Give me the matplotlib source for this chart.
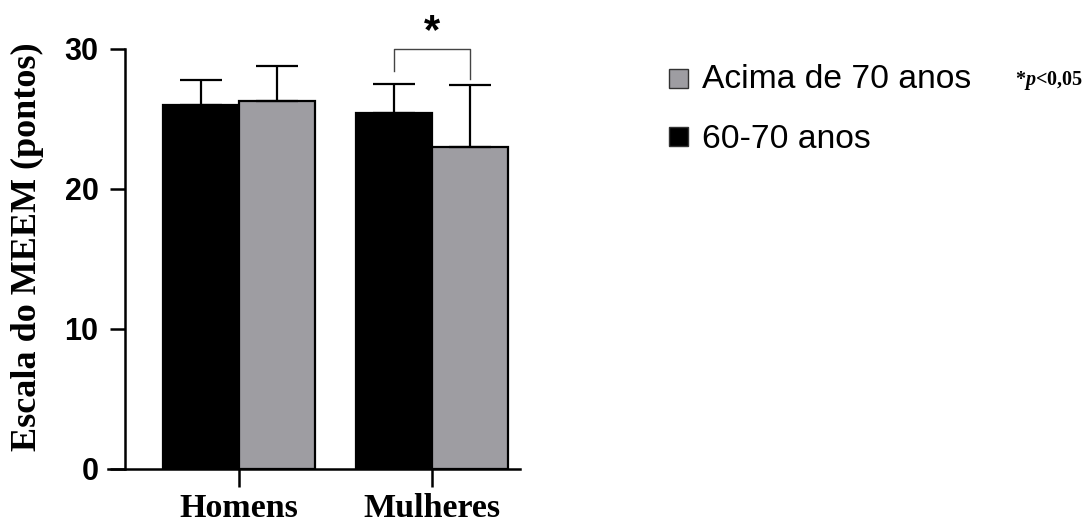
import numpy as np
import matplotlib
matplotlib.use('Agg')
import matplotlib.pyplot as plt
from matplotlib.patches import Rectangle

plt.rcParams['mathtext.fontset'] = 'custom'
plt.rcParams['mathtext.bfit'] = 'Liberation Serif:italic:bold'

# group labels, means and upper SD for the two age ranges
groups = ['Homens', 'Mulheres']
series_names = ['60-70 anos', 'Acima de 70 anos']
mean_60_70 = [26.0, 25.4]
sd_60_70 = [1.8, 2.1]
mean_70_plus = [26.3, 23.0]
sd_70_plus = [2.5, 4.4]
y_ticks = [0, 10, 20, 30]

black = '#000000'
grey = '#9e9da2'

W, H = 1087, 524
fig = plt.figure(figsize=(W / 100, H / 100), dpi=100)
fig.set_facecolor('white')

# axes box in pixel terms (left, bottom, right, top)
L, B, R, T = 108, 469, 520, 49
ax = fig.add_axes([L / W, 1 - B / H, (R - L) / W, (B - T) / H])

x = np.arange(len(groups))
width = 0.394
err_kw = dict(ecolor='black', elinewidth=1.6, capsize=15, capthick=1.6)

ax.bar(x - width / 2, mean_60_70, width, color=black, edgecolor='black', linewidth=1.6,
       yerr=[np.zeros(len(groups)), sd_60_70], error_kw=err_kw, zorder=3)
ax.bar(x + width / 2, mean_70_plus, width, color=grey, edgecolor='black', linewidth=1.6,
       yerr=[np.zeros(len(groups)), sd_70_plus], error_kw=err_kw, zorder=3)

ax.set_xlim(-0.679, 1.456)
ax.set_ylim(0, 30)

for s in ['top', 'right']:
    ax.spines[s].set_visible(False)
ax.spines['left'].set_position(('axes', (125 - L) / (R - L)))
ax.spines['left'].set_linewidth(1.8)
ax.spines['bottom'].set_linewidth(1.8)

ax.set_yticks(y_ticks)
ax.set_yticklabels([str(v) for v in y_ticks], family='Liberation Sans', weight='bold', fontsize=22)
ax.tick_params(axis='y', length=11, width=1.8, pad=8)

ax.set_xticks(x)
ax.set_xticklabels(groups, family='Liberation Serif', weight='bold', fontsize=24.5)
ax.tick_params(axis='x', length=13, width=1.8, pad=4)

fig.text(27 / W, 1 - 247 / H, 'Escala do MEEM (pontos)', rotation=90, ha='center', va='center',
         family='Liberation Serif', weight='bold', fontsize=26)

# significance bracket between the two Mulheres bars
x1, x2 = x[1] - width / 2, x[1] + width / 2
ax.plot([x1, x1, x2, x2], [28.4, 30, 30, 27.85], color='#444444', lw=1.0, clip_on=False)
ax.text(x[1], 29.75, '*', ha='center', va='bottom', family='Liberation Sans', weight='bold',
        fontsize=30, clip_on=False)

# legend drawn by hand: grey entry first, then black
entries = [(grey, series_names[1], 80, 78), (black, series_names[0], 140, 136)]
for color, label, yt, ys in entries:
    fig.patches.append(Rectangle((669 / W, 1 - (ys + 10) / H), 19 / W, 19 / H, transform=fig.transFigure,
                                 facecolor=color, edgecolor='#333333', linewidth=1.0))
    fig.text(702 / W, 1 - yt / H, label, ha='left', va='center', family='Liberation Sans', fontsize=24.2)

fig.text(1015 / W, 1 - 80 / H, r'*$\bfit{p}$<0,05', ha='left', va='center',
         family='Liberation Serif', weight='bold', fontsize=14.5)

fig.savefig('out.png', dpi=100)
